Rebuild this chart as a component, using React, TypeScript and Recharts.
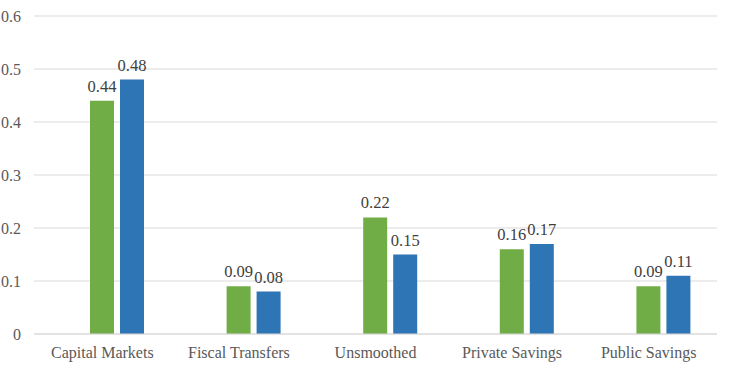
import { Bar, BarChart, CartesianGrid, LabelList, XAxis, YAxis } from "recharts";

const CATEGORIES = [
  "Capital Markets",
  "Fiscal Transfers",
  "Unsmoothed",
  "Private Savings",
  "Public Savings",
];
const SERIES_EMPTY = [0, 0, 0, 0, 0];
const SERIES_GREEN = [0.44, 0.09, 0.22, 0.16, 0.09];
const SERIES_BLUE = [0.48, 0.08, 0.15, 0.17, 0.11];
const Y_TICKS = [0, 0.1, 0.2, 0.3, 0.4, 0.5, 0.6];

const data = CATEGORIES.map((name, i) => ({
  name,
  empty: SERIES_EMPTY[i],
  green: SERIES_GREEN[i],
  blue: SERIES_BLUE[i],
}));

const font = "'Liberation Serif', 'Times New Roman', serif";
const xTickStyle = { fill: "#595959", fontSize: 16, fontFamily: font };
const yTickStyle = { fill: "#595959", fontSize: 16, fontFamily: font };
const labelStyle = { fill: "#404040", fontSize: 16.5, fontFamily: font };

export default function App() {
  return (
    <div>
      <style>{`body{margin:0}`}</style>
      <BarChart
        width={735}
        height={376}
        data={data}
        margin={{ top: 16, right: 18, bottom: 12, left: 0 }}
        barSize={24}
        barGap={6}
      >
        <CartesianGrid vertical={false} stroke="#d9d9d9" />
        <XAxis
          dataKey="name"
          tick={xTickStyle}
          axisLine={{ stroke: "#d9d9d9" }}
          tickLine={false}
          tickMargin={7}
          height={30}
        />
        <YAxis
          domain={[0, 0.6]}
          ticks={Y_TICKS}
          tick={yTickStyle}
          axisLine={false}
          tickLine={false}
          tickMargin={7}
          width={34}
          tickFormatter={(v: number) => String(v)}
        />
        <Bar dataKey="empty" fill="transparent" isAnimationActive={false} />
        <Bar dataKey="green" fill="#70ad47" isAnimationActive={false}>
          <LabelList dataKey="green" position="top" offset={9} style={labelStyle} />
        </Bar>
        <Bar dataKey="blue" fill="#2e75b6" isAnimationActive={false}>
          <LabelList dataKey="blue" position="top" offset={9} style={labelStyle} />
        </Bar>
      </BarChart>
    </div>
  );
}
